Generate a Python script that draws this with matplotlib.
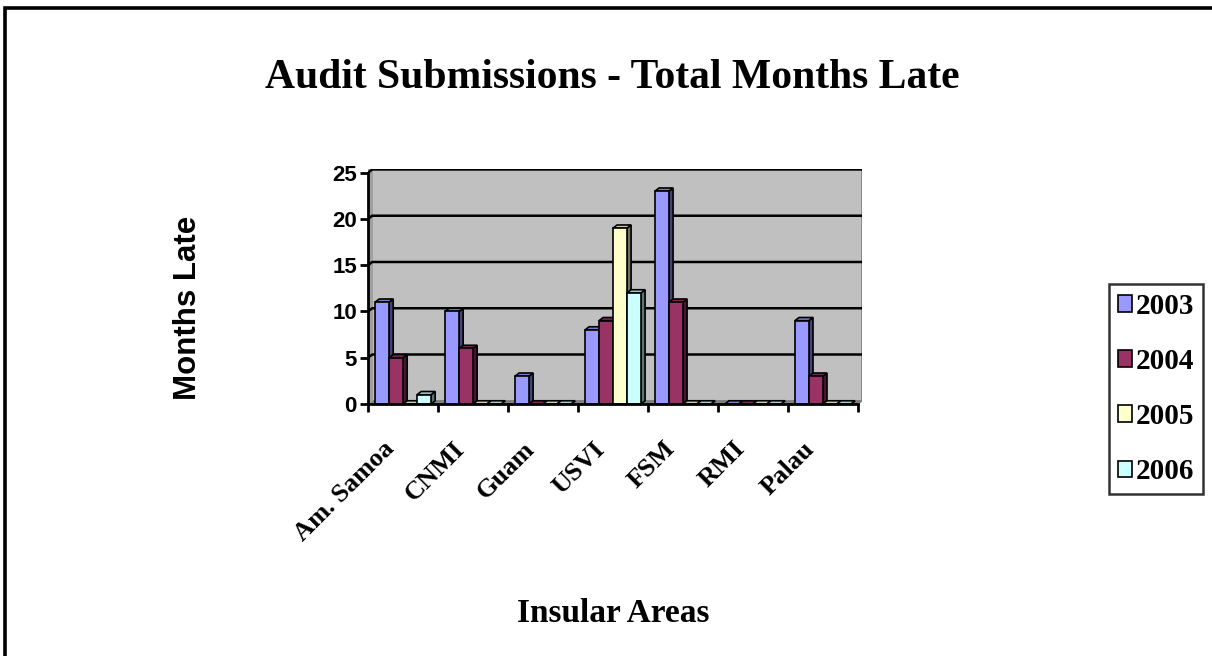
import numpy as np
import matplotlib.pyplot as plt
import matplotlib.transforms as mtransforms
from matplotlib.lines import Line2D
from matplotlib.patches import Rectangle
from matplotlib.colors import to_rgb

# data
areas = ["Am. Samoa", "CNMI", "Guam", "USVI", "FSM", "RMI", "Palau"]
years = ["2003", "2004", "2005", "2006"]
late_2003 = [11, 10, 3, 8, 23, 0, 9]
late_2004 = [5, 6, 0, 9, 11, 0, 3]
late_2005 = [0, 0, 0, 19, 0, 0, 0]
late_2006 = [1, 0, 0, 12, 0, 0, 0]
series = [late_2003, late_2004, late_2005, late_2006]
colors = ["#9999FF", "#993366", "#FFFFCC", "#CCFFFF"]

serif = ["Liberation Serif", "DejaVu Serif"]
sans = ["Liberation Sans", "DejaVu Sans"]

fig = plt.figure(figsize=(12.12, 6.56), dpi=100)
fig.patch.set_facecolor("white")
# page border: only top and left edges are visible
fig.add_artist(Line2D([4.5 / 1212, 4.5 / 1212, 1], [0, 1 - 7.5 / 656, 1 - 7.5 / 656],
                      transform=fig.transFigure, color="black", linewidth=2.6,
                      solid_joinstyle="miter"))

ax = fig.add_axes([368 / 1212, 1 - 404 / 656, 494 / 1212, 235 / 656])
ax.set_xlim(0, 7.06)
ax.set_ylim(0, 25.4)
ax.set_facecolor("white")

# fake 3D depth (data units)
dx, dy = 0.06, 0.35

# back wall + floor
ax.add_patch(Rectangle((dx, dy), 7.0, 25.4, facecolor="#C0C0C0", edgecolor="#808080",
                       linewidth=1.2, zorder=0))
ax.fill([0, 7, 7 + dx, dx], [0, 0, dy, dy], color="#808080", zorder=0.5)
ax.fill([0, dx, dx, 0], [0, dy, 25.4, 25.4], color="#A0A0A0", zorder=0.5)
for g in [5, 10, 15, 20, 25]:
    ax.plot([0, dx, 7 + dx], [g, g + dy, g + dy], color="black", linewidth=1.8, zorder=1)

width = 0.2
x = np.arange(len(areas)) + 0.5
for i, (vals, c) in enumerate(zip(series, colors)):
    pos = x + (i - 1.5) * width
    dark = tuple(v * 0.45 for v in to_rgb(c))
    mid = tuple(v * 0.8 for v in to_rgb(c))
    for p, h in zip(pos, vals):
        x0, x1 = p - width / 2, p + width / 2
        ax.fill([x1, x1 + dx, x1 + dx, x1], [0, dy, h + dy, h],
                facecolor=dark, edgecolor="black", linewidth=1.2, zorder=2 + i)
        ax.fill([x0, x0 + dx, x1 + dx, x1], [h, h + dy, h + dy, h],
                facecolor=mid, edgecolor="black", linewidth=1.2, zorder=2 + i)
    ax.bar(pos, vals, width=width, color=c, edgecolor="black", linewidth=1.2,
           label=years[i], zorder=2.5 + i)

for s in ["top", "right"]:
    ax.spines[s].set_visible(False)
ax.spines["left"].set_linewidth(2)
ax.spines["bottom"].set_linewidth(2)
ax.spines["left"].set_bounds(0, 25)
ax.spines["bottom"].set_bounds(0, 7)
ax.spines["left"].set_zorder(10)
ax.spines["bottom"].set_zorder(10)

ax.set_yticks([0, 5, 10, 15, 20, 25])
ax.set_yticklabels([str(v) for v in [0, 5, 10, 15, 20, 25]],
                   fontsize=16, fontweight="bold", family=sans)
ax.tick_params(axis="y", length=6, width=2, pad=2)

ax.set_xticks(x)
ax.set_xticklabels(areas, rotation=45, ha="right", rotation_mode="anchor",
                   fontsize=19, fontweight="bold", family=serif)
ax.tick_params(axis="x", length=0, pad=24)
shift = mtransforms.ScaledTranslation(-20 / 100, 0, fig.dpi_scale_trans)
for lab in ax.get_xticklabels():
    lab.set_transform(lab.get_transform() + shift)
ax.set_xticks(np.arange(0, 8), minor=True)
ax.tick_params(axis="x", which="minor", length=6, width=2)

fig.text(188 / 1212, 1 - 308 / 656, "Months Late", rotation=90, ha="center", va="center",
         fontsize=22.5, fontweight="bold", family=sans)

fig.text(612 / 1212, 1 - 78 / 656, "Audit Submissions - Total Months Late", ha="center",
         va="center", fontsize=30, fontweight="bold", family=serif)
fig.text(613 / 1212, 1 - 613 / 656, "Insular Areas", ha="center", va="center",
         fontsize=24, fontweight="bold", family=serif)

leg = fig.legend(loc="center", bbox_to_anchor=(1156 / 1212, 1 - 389 / 656),
                 prop={"family": serif, "weight": "bold", "size": 21},
                 frameon=True, fancybox=False, edgecolor="black",
                 handlelength=0.5, handleheight=0.5, handletextpad=0.12,
                 labelspacing=0.97, borderpad=0.29, borderaxespad=0)
leg.get_frame().set_linewidth(1.8)

plt.savefig("out.png", dpi=100)
